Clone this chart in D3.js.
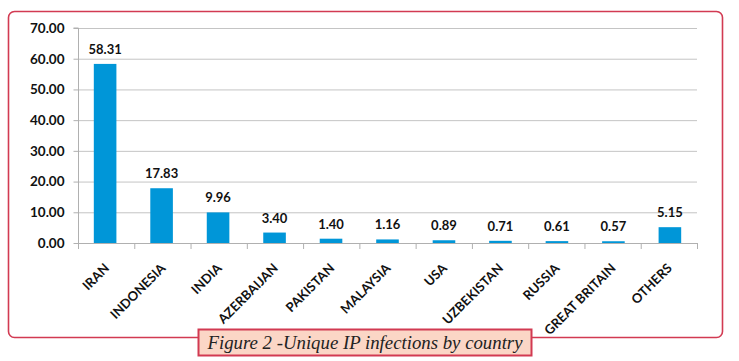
<!DOCTYPE html>
<html><head><meta charset="utf-8">
<script src="https://cdn.jsdelivr.net/npm/d3@7"></script>
<style>body{margin:0;background:#fff}</style>
</head><body>
<svg id="c" width="739" height="361"></svg>
<script>
const categories = ["IRAN","INDONESIA","INDIA","AZERBAIJAN","PAKISTAN","MALAYSIA","USA","UZBEKISTAN","RUSSIA","GREAT BRITAIN","OTHERS"];
const labels = ["IRAN","INDONESIA","INDIA","AZERBAIJAN","PAKISTAN","MALAYSIA","USA","UZBEKISTAN","RUSSIA","GREAT BRITAIN","OTHERS"];
const values = [58.31,17.83,9.96,3.40,1.40,1.16,0.89,0.71,0.61,0.57,5.15];
const yTicks = [0,10,20,30,40,50,60,70];
const caption = "Figure 2 -Unique IP infections by country";

const svg = d3.select("#c");
const red = "#d23a52";
svg.append("rect").attr("x",8.5).attr("y",11.5).attr("width",714).attr("height",326)
  .attr("rx",6).attr("fill","#fff").attr("stroke",red).attr("stroke-width",1.6);

const x0=78, x1=697, yTop=28, yBot=243;
const x = d3.scaleBand().domain(categories).range([x0,x1]).paddingInner(0.6).paddingOuter(0.28);
const xb = d3.scaleBand().domain(categories).range([x0,x1]);
const y = d3.scaleLinear().domain([0,70]).range([yBot,yTop]);

const font = "Lato, 'Open Sans', sans-serif";
// gridlines
svg.append("g").selectAll("line").data(yTicks.filter(d=>d>0)).join("line")
  .attr("x1",x0).attr("x2",x1).attr("y1",d=>y(d)+0.5).attr("y2",d=>y(d)+0.5)
  .attr("stroke","#c4c4c4").attr("stroke-width",1);
// y axis
const ya = svg.append("g").attr("transform",`translate(${x0+0.5},0)`)
  .call(d3.axisLeft(y).tickValues(yTicks).tickFormat(d3.format(".2f")).tickSize(5).tickPadding(9));
ya.select(".domain").attr("stroke","#b0b0b0").attr("d",`M-5,${y(70)}H0V${yBot}`);
ya.selectAll(".tick line").attr("stroke","#b0b0b0");
ya.selectAll("text").attr("font-family",font).attr("font-weight","bold").attr("font-size","13.5px").attr("fill","#111");
// x axis
svg.append("line").attr("x1",x0).attr("x2",x1).attr("y1",yBot+0.5).attr("y2",yBot+0.5).attr("stroke","#b0b0b0");
svg.append("g").selectAll("line").data(categories.concat(["__end"])).join("line")
  .attr("x1",(d,i)=> (i<categories.length? xb(d): x1)+0.5).attr("x2",(d,i)=> (i<categories.length? xb(d): x1)+0.5)
  .attr("y1",yBot).attr("y2",yBot+6).attr("stroke","#b0b0b0");
// bars
svg.append("g").selectAll("rect").data(values).join("rect")
  .attr("x",(d,i)=>x(categories[i])).attr("width",x.bandwidth())
  .attr("y",d=>y(d)).attr("height",d=>yBot-y(d)).attr("fill","#0096d8");
// value labels
svg.append("g").selectAll("text").data(values).join("text")
  .attr("x",(d,i)=>x(categories[i])+x.bandwidth()/2).attr("y",d=>y(d)-10)
  .attr("text-anchor","middle").attr("font-family",font).attr("font-weight","bold")
  .attr("font-size","13px").attr("fill","#111").text(d=>d.toFixed(2));
// x labels
svg.append("g").selectAll("text").data(labels).join("text")
  .attr("transform",(d,i)=>`translate(${xb(categories[i])+xb.bandwidth()/2+4},${yBot+26}) rotate(-45)`)
  .attr("text-anchor","end").attr("font-family",font).attr("font-weight","bold")
  .attr("font-size","13px").attr("fill","#111").text(d=>d);
// caption
svg.append("rect").attr("x",198.5).attr("y",329.5).attr("width",333).attr("height",26)
  .attr("fill","#fbd6c6").attr("stroke",red).attr("stroke-width",2);
svg.append("text").attr("x",365).attr("y",348.5).attr("text-anchor","middle")
  .attr("font-family","'Liberation Serif', serif").attr("font-style","italic")
  .attr("font-size","18.8px").attr("fill","#222").text(caption);
</script>
</body></html>
